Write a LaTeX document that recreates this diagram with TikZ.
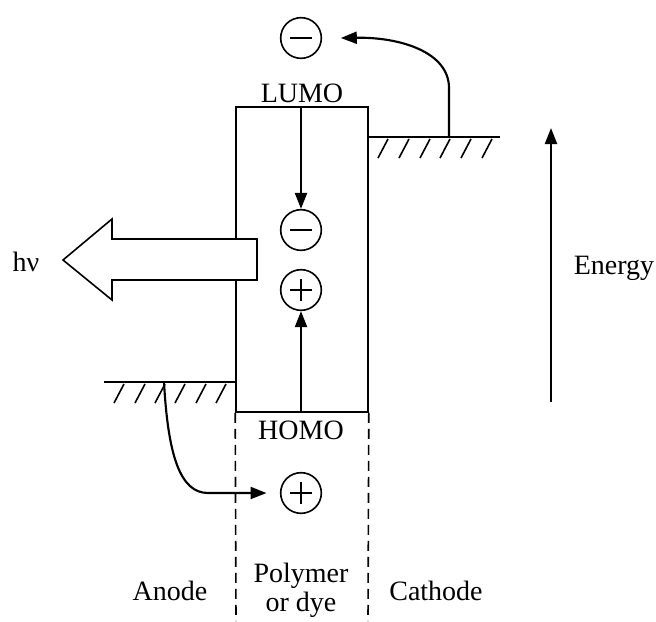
\documentclass[tikz,border=0pt]{standalone}
\usepackage{fontspec}
\setmainfont{Liberation Serif}
\usetikzlibrary{arrows.meta,calc}
\begin{document}
\begin{tikzpicture}[x=0.75pt,y=-0.75pt,
  lw/.style={line width=1.6pt},
  tip/.style={-{Triangle[length=12pt,width=9pt]}},
  charge/.style={circle,draw,line width=1.2pt,minimum size=30.5pt,inner sep=0pt},
  lbl/.style={font=\fontsize{21}{24}\selectfont,inner sep=0pt},
  hatch/.style={line width=1.2pt}]
\useasboundingbox (0,0) rectangle (656,621);
% box
\node[draw,line width=1.2pt,minimum width=99pt,minimum height=228.75pt,inner sep=0pt] (box) at (302,259.5) {};
% labels
\node[lbl] (lumo) at (302,93) {LUMO};
\node[lbl] (homo) at (301,430) {HOMO};
\node[lbl] (hv) at (26,262) {hν};
\node[lbl] (energy) at (614,268) {Energy};
\node[lbl,anchor=base] (anode) at (170,600) {Anode};
\node[lbl,anchor=base] (cathode) at (436,600) {Cathode};
\node[lbl,anchor=base] (poly) at (301,582) {Polymer};
\node[lbl,anchor=base] (dye) at (301,611) {or dye};
% charges
\node[charge] (mtop) at (301,38) {};
\node[charge] (mmid) at (301,230) {};
\node[charge] (pmid) at (301,290) {};
\node[charge] (pbot) at (301,493) {};
\foreach \n in {mtop,mmid,pmid,pbot}
  \draw[line width=1.2pt] ([xshift=-8.2pt]\n.center) -- ([xshift=8.2pt]\n.center);
\foreach \n in {pmid,pbot}
  \draw[line width=1.2pt] ([yshift=-8.2pt]\n.center) -- ([yshift=8.2pt]\n.center);
% dashed extension
\coordinate (dl) at (236,621);
\coordinate (dr) at (368,621);
\draw[line width=1.2pt,dash pattern=on 7.5pt off 4.5pt] (box.south west) -- (dl);
\draw[line width=1.2pt,dash pattern=on 7.5pt off 4.5pt] (box.south east) -- (dr);
% cathode level
\coordinate (cl) at (500,137);
\draw[lw] (box.east |- cl) -- (cl);
\foreach \x in {378,399,420,440,461,482}
  \draw[hatch] (\x,158) -- (\x+10,139);
% anode level
\coordinate (al) at (104,382);
\draw[lw] (al) -- (box.west |- al);
\foreach \x in {114,135,155,175,196,216}
  \draw[hatch] (\x,403) -- (\x+10,384);
% arrows
\draw[lw,tip] (box.north -| mmid) -- (mmid.north);
\draw[lw,tip] (box.south -| pmid) -- (pmid.south);
\coordinate (cs) at (449,137);
\draw[lw,tip] (cs) -- (449,88) .. controls (449,52) and (400,37) .. ([xshift=14pt]mtop.east);
\coordinate (as) at (164,382);
\draw[lw,tip] (as) .. controls (168,455) and (180,493) .. (208,493) -- ([xshift=-10pt]pbot.west);
\coordinate (eb) at (551,402);
\coordinate (et) at (551,128);
\draw[lw,tip] (eb) -- (et);
% big arrow
\draw[line width=1.2pt,fill=white] (63,260) -- (112,219) -- (112,239) -- (257,239) -- (257,280) -- (112,280) -- (112,300) -- cycle;
\end{tikzpicture}
\end{document}
